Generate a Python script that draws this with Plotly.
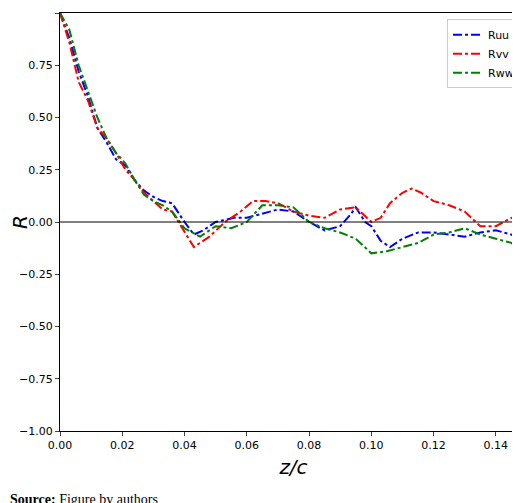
import plotly.graph_objects as go

z_uu = [0, 0.003, 0.006, 0.009, 0.012, 0.015, 0.018, 0.021, 0.024, 0.027, 0.03, 0.033, 0.036, 0.04, 0.043, 0.046,
        0.05, 0.053, 0.056, 0.06, 0.065, 0.07, 0.075, 0.08, 0.085, 0.09, 0.093, 0.095, 0.098, 0.1, 0.103, 0.106,
        0.11, 0.115, 0.12, 0.125, 0.13, 0.135, 0.14, 0.145, 0.15]
ruu = [1.0, 0.88, 0.72, 0.6, 0.45, 0.38, 0.3, 0.27, 0.2, 0.15, 0.12, 0.1, 0.09, 0.0, -0.06, -0.04,
       0.0, 0.01, 0.02, 0.02, 0.04, 0.06, 0.05, 0.0, -0.04, -0.02, 0.03, 0.07, 0.0, -0.02, -0.09, -0.12,
       -0.08, -0.05, -0.05, -0.06, -0.07, -0.05, -0.04, -0.06, -0.12]

z_vv = [0, 0.003, 0.006, 0.009, 0.012, 0.015, 0.018, 0.021, 0.024, 0.027, 0.03, 0.033, 0.036, 0.04, 0.043, 0.048,
        0.053, 0.058, 0.062, 0.066, 0.07, 0.075, 0.08, 0.085, 0.09, 0.095, 0.098, 0.1, 0.103, 0.106, 0.11, 0.113,
        0.116, 0.12, 0.125, 0.13, 0.135, 0.14, 0.145, 0.15]
rvv = [1.0, 0.86, 0.67, 0.58, 0.45, 0.4, 0.33, 0.25, 0.2, 0.14, 0.1, 0.06, 0.05, -0.05, -0.12, -0.07,
       0.0, 0.05, 0.1, 0.1, 0.09, 0.05, 0.03, 0.02, 0.06, 0.07, 0.03, 0.0, 0.02, 0.09, 0.14, 0.16,
       0.14, 0.1, 0.08, 0.05, -0.02, -0.02, 0.02, -0.01]

z_ww = [0, 0.003, 0.006, 0.009, 0.012, 0.015, 0.018, 0.021, 0.024, 0.027, 0.03, 0.033, 0.036, 0.04, 0.045,
        0.05, 0.055, 0.06, 0.065, 0.07, 0.075, 0.08, 0.085, 0.09, 0.095, 0.1, 0.105, 0.11, 0.115, 0.12, 0.125,
        0.13, 0.135, 0.14, 0.145, 0.15]
rww = [1.0, 0.92, 0.75, 0.62, 0.5, 0.4, 0.33, 0.28, 0.2, 0.13, 0.1, 0.08, 0.05, -0.03, -0.07,
       -0.02, -0.03, 0.0, 0.08, 0.08, 0.07, 0.0, -0.03, -0.05, -0.08, -0.15, -0.14, -0.12, -0.1, -0.06, -0.05,
       -0.03, -0.06, -0.08, -0.1, -0.16]

fig = go.Figure()
for name, x, y, c in [("Ruu", z_uu, ruu, "blue"), ("Rvv", z_vv, rvv, "red"), ("Rww", z_ww, rww, "green")]:
    fig.add_trace(go.Scatter(x=x, y=y, name=name, mode="lines", cliponaxis=True,
                             line=dict(color=c, width=2, dash="dashdot")))

fig.add_hline(y=0, line=dict(color="black", width=1))

axis = dict(showgrid=False, zeroline=False, showline=True, linecolor="black", mirror=True,
            ticks="outside", ticklen=4, tickfont=dict(size=11, color="black"), automargin=False)
fig.update_xaxes(range=[0, 0.15], dtick=0.02, tickformat=".2f", **axis,
                 title=dict(text="<i>z/c</i>", font=dict(size=20, color="black"), standoff=8))
fig.update_yaxes(range=[-1, 1], dtick=0.25, tickformat=".2f", **axis,
                 title=dict(text="<i>R</i>", font=dict(size=20, color="black"), standoff=2))

fig.add_annotation(text="<b>Source:</b> Figure by authors", xref="paper", yref="paper",
                   x=-0.111, y=-0.165, xanchor="left", yanchor="middle", showarrow=False,
                   font=dict(family="Liberation Serif", size=14, color="black"))

fig.update_layout(
    width=520, height=503,
    margin=dict(l=52, r=1, t=5, b=80, autoexpand=False),
    plot_bgcolor="white", paper_bgcolor="white",
    font=dict(family="DejaVu Sans"),
    legend=dict(x=0.985, y=0.985, xanchor="right", yanchor="top", bordercolor="#cccccc",
                borderwidth=1, font=dict(size=11, color="black")),
)

fig.write_html("out.html")
